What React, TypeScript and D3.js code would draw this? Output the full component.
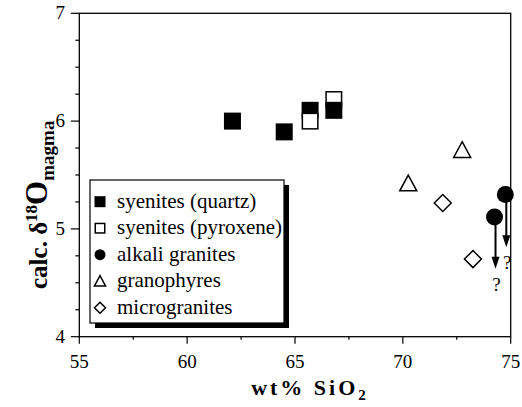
import React from "react";
import * as d3 from "d3";

const quartzX = [62.1, 64.5, 65.7, 66.8];
const quartzY = [6.0, 5.9, 6.1, 6.1];
const pyroxX = [65.7, 66.8];
const pyroxY = [6.0, 6.2];
const alkaliX = [74.75, 74.25];
const alkaliY = [5.32, 5.11];
const alkaliArrowEnd = [4.83, 4.63];
const granoX = [70.25, 72.75];
const granoY = [5.42, 5.73];
const microX = [71.85, 73.25];
const microY = [5.24, 4.72];

const xTicks = [55, 60, 65, 70, 75];
const yTicks = [4, 5, 6, 7];
const legendLabels = [
  "syenites (quartz)",
  "syenites (pyroxene)",
  "alkali granites",
  "granophyres",
  "microgranites",
];

const W = 522;
const H = 407;
const FONT = "Liberation Serif";

type Kind = "fsq" | "osq" | "circle" | "tri" | "dia";

function Marker({ kind, cx, cy, s }: { kind: Kind; cx: number; cy: number; s: number }) {
  const h = s / 2;
  if (kind === "fsq")
    return <rect x={cx - h} y={cy - h} width={s} height={s} fill="#000" />;
  if (kind === "osq")
    return (
      <rect x={cx - h + 0.75} y={cy - h + 0.75} width={s - 1.5} height={s - 1.5} fill="#fff" stroke="#000" strokeWidth={1.5} />
    );
  if (kind === "circle") return <circle cx={cx} cy={cy} r={h} fill="#000" />;
  if (kind === "tri") {
    const p = `${cx},${cy - h} ${cx + h},${cy + h * 0.85} ${cx - h},${cy + h * 0.85}`;
    return <polygon points={p} fill="#fff" stroke="#000" strokeWidth={1.5} />;
  }
  const p = `${cx},${cy - h} ${cx + h},${cy} ${cx},${cy + h} ${cx - h},${cy}`;
  return <polygon points={p} fill="#fff" stroke="#000" strokeWidth={1.5} />;
}

export default function App() {
  const x = d3.scaleLinear().domain([55, 75]).range([79.3, 510.7]);
  const y = d3.scaleLinear().domain([4, 7]).range([336.7, 13.3]);
  const x0 = x(55), x1 = x(75), y0 = y(4), y1 = y(7);
  const xMinor = d3.range(55, 75.01, 2.5);
  const yMinor = d3.range(4, 7.01, 0.25);
  const S = 17;

  const order: { kind: Kind; px: number; py: number }[] = [
    { kind: "fsq", px: quartzX[0], py: quartzY[0] },
    { kind: "fsq", px: quartzX[1], py: quartzY[1] },
    { kind: "fsq", px: quartzX[2], py: quartzY[2] },
    { kind: "osq", px: pyroxX[0], py: pyroxY[0] },
    { kind: "osq", px: pyroxX[1], py: pyroxY[1] },
    { kind: "fsq", px: quartzX[3], py: quartzY[3] },
    ...granoX.map((v, i) => ({ kind: "tri" as Kind, px: v, py: granoY[i] })),
    ...microX.map((v, i) => ({ kind: "dia" as Kind, px: v, py: microY[i] })),
    ...alkaliX.map((v, i) => ({ kind: "circle" as Kind, px: v, py: alkaliY[i] })),
  ];

  const lg = { x: 90, y: 180, w: 194, h: 143, row: 26.5 };
  const legendKinds: Kind[] = ["fsq", "osq", "circle", "tri", "dia"];

  return (
    <svg width={W} height={H} style={{ position: "absolute", left: 0, top: 0, background: "#fff" }}>
      {/* frame */}
      <rect x={x0} y={y1} width={x1 - x0} height={y0 - y1} fill="none" stroke="#000" strokeWidth={1.3} />
      {/* ticks */}
      {yMinor.map((v) => {
        const major = Math.abs(v - Math.round(v)) < 1e-6;
        return <line key={"ym" + v} x1={x0 - (major ? 8.5 : 4)} x2={x0} y1={y(v)} y2={y(v)} stroke="#000" strokeWidth={1.2} />;
      })}
      {xMinor.map((v) => {
        const major = Math.abs(v / 5 - Math.round(v / 5)) < 1e-6;
        return <line key={"xm" + v} x1={x(v)} x2={x(v)} y1={y0} y2={y0 + (major ? 7 : 3)} stroke="#000" strokeWidth={1.2} />;
      })}
      {yTicks.map((v) => (
        <text key={"yl" + v} fontFamily={FONT} x={65} y={y(v) + 6} fontSize={19} textAnchor="end">{v}</text>
      ))}
      {xTicks.map((v) => (
        <text key={"xl" + v} fontFamily={FONT} x={x(v)} y={368} fontSize={19} textAnchor="middle">{v}</text>
      ))}
      {/* axis titles */}
      <text fontFamily={FONT} x={310} y={395} fontSize={22} fontWeight="bold" textAnchor="middle" letterSpacing={3}>
        wt% SiO<tspan fontSize={15} dy={5}>2</tspan>
      </text>
      <text fontFamily={FONT} transform="translate(47,289) rotate(-90)" fontSize={25} fontWeight="bold" textAnchor="start">
        calc. δ<tspan fontSize={17} dy={-10}>18</tspan><tspan fontSize={31} dy={10}>O</tspan><tspan fontSize={19} dy={7}>magma</tspan>
      </text>
      {/* data */}
      {order.map((d, i) => (
        <Marker key={"pt" + i} kind={d.kind} cx={x(d.px)} cy={y(d.py)} s={S} />
      ))}
      {/* arrows */}
      {alkaliX.map((v, i) => {
        const ax = x(v) + 1;
        const top = y(alkaliY[i]) + 6;
        const tip = y(alkaliArrowEnd[i]);
        return (
          <g key={"ar" + i}>
            <line x1={ax} x2={ax} y1={top} y2={tip - 10} stroke="#000" strokeWidth={2} />
            <polygon points={`${ax - 4},${tip - 12} ${ax + 4},${tip - 12} ${ax},${tip}`} fill="#000" />
            <text fontFamily={FONT} x={ax + 1} y={tip + 22} fontSize={19} textAnchor="middle">?</text>
          </g>
        );
      })}
      {/* legend */}
      <rect x={lg.x + 5} y={lg.y + 5} width={lg.w} height={lg.h} fill="#000" />
      <rect x={lg.x} y={lg.y} width={lg.w} height={lg.h} fill="#fff" stroke="#000" strokeWidth={1.2} />
      {legendLabels.map((t, i) => {
        const cy = lg.y + 21.7 + i * lg.row;
        return (
          <g key={"lg" + i}>
            <Marker kind={legendKinds[i]} cx={100} cy={cy} s={11} />
            <text fontFamily={FONT} x={117} y={cy + 6} fontSize={21}>{t}</text>
          </g>
        );
      })}
    </svg>
  );
}
